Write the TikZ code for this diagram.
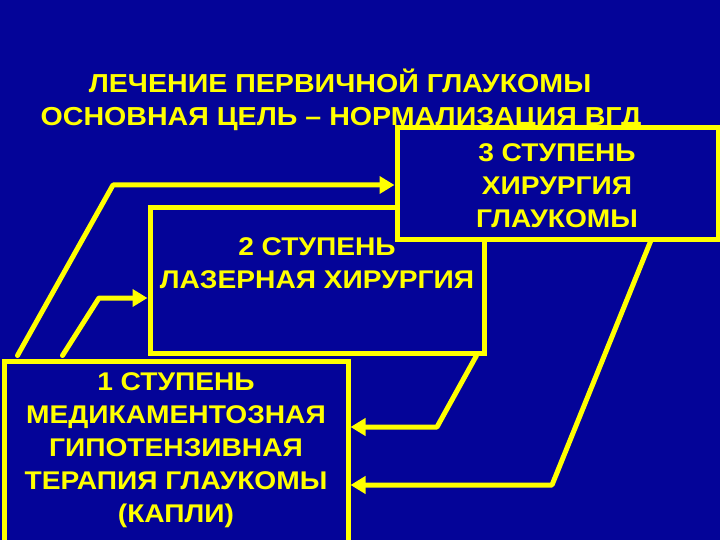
\documentclass[tikz,border=0pt]{standalone}
\usepackage{fontspec}
\setmainfont[FakeStretch=1.1]{Liberation Sans}
\usetikzlibrary{arrows.meta}
\definecolor{bgblue}{RGB}{4,4,152}
\definecolor{yel}{RGB}{255,255,0}
\begin{document}
\begin{tikzpicture}[x=1pt,y=-1pt,
  boxstyle/.style={draw=yel, line width=5pt, fill=bgblue, rectangle, inner sep=0pt},
  txt/.style={text=yel, align=center, font=\fontsize{25.6}{33}\selectfont\bfseries, inner sep=0pt},
  ttl/.style={text=yel, font=\fontsize{26}{33}\selectfont\bfseries, inner sep=0pt},
  conn/.style={draw=yel, line width=5pt, line cap=round, line join=round, -{Triangle[length=15pt,width=17pt]}}
]
\fill[bgblue] (0,0) rectangle (720,540);
\useasboundingbox (0,0) rectangle (720,540);

% title
\node[ttl, anchor=base] (t1) at (340,93) {ЛЕЧЕНИЕ ПЕРВИЧНОЙ ГЛАУКОМЫ};
\node[ttl, anchor=base] (t2) at (341,126) {ОСНОВНАЯ ЦЕЛЬ – НОРМАЛИЗАЦИЯ ВГД};

% boxes
\node[boxstyle, minimum width=334pt, minimum height=145pt] (box2) at (317,280.5) {};
\node[boxstyle, minimum width=321pt, minimum height=111pt] (box3) at (557.5,183.5) {};
\node[boxstyle, minimum width=344pt, minimum height=190pt] (box1) at (176,456) {};

% texts
\node[txt] (box3t) at (557,186) {3 СТУПЕНЬ\\ХИРУРГИЯ\\ГЛАУКОМЫ};
\node[txt] (box2t) at (317,263.5) {2 СТУПЕНЬ\\ЛАЗЕРНАЯ ХИРУРГИЯ};
\node[txt] (box1t) at (176,450) {1 СТУПЕНЬ\\МЕДИКАМЕНТОЗНАЯ\\ГИПОТЕНЗИВНАЯ\\ТЕРАПИЯ ГЛАУКОМЫ\\(КАПЛИ)};

% bend points
\coordinate (bA) at (113,185);
\coordinate (bB) at (99,298);
\coordinate (bC) at (437,427);
\coordinate (bD) at (552,485);

% connectors
\draw[conn] ([xshift=16pt,yshift=3pt]box1.north west) -- (bA) -- (box3.west |- bA);
\draw[conn] ([xshift=61pt,yshift=3pt]box1.north west) -- (bB) -- (box2.west |- bB);
\draw[conn] ([xshift=-10pt]box2.south east) -- (bC) -- (box1.east |- bC);
\draw[conn] ([xshift=-70pt]box3.south east) -- (bD) -- (box1.east |- bD);
\end{tikzpicture}
\end{document}
